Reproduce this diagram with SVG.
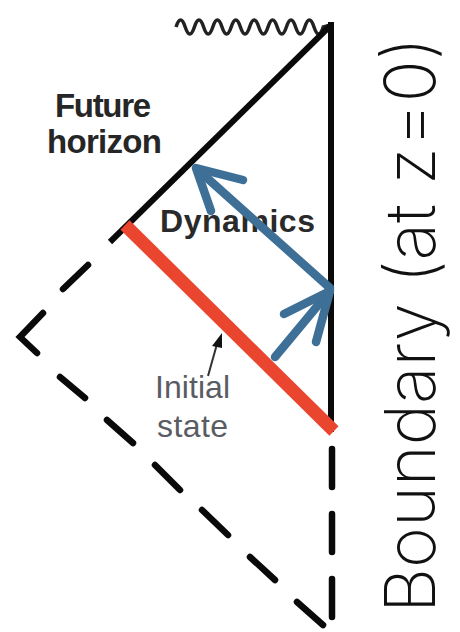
<svg xmlns="http://www.w3.org/2000/svg" width="460" height="632" viewBox="0 0 460 632">
<style>
.ln{stroke:#0a0a0a;stroke-width:6;fill:none;stroke-linecap:butt;stroke-linejoin:miter}
.dash{stroke:#0a0a0a;stroke-width:6.5;fill:none;stroke-linecap:round;stroke-linejoin:miter}
.blue{stroke:#3d6f97;stroke-width:8.5;fill:none;stroke-linecap:round;stroke-linejoin:round}
.lbl{font-family:"Liberation Sans",Arial,sans-serif}
</style>
<rect width="460" height="632" fill="#ffffff"/>
<g id="singularity">
<path d="M176,27 q4.6,-14 9.2,0 t9.2,0 t9.2,0 t9.2,0 t9.2,0 t9.2,0 t9.2,0 t9.2,0 t9.2,0 t9.2,0 t9.2,0 t9.2,0 t9.2,0 t9.2,0 t9.2,0 t9.2,0 L331,25" stroke="#222" stroke-width="3.5" fill="none"/>
</g>
<g id="connectors">
<line class="ln" x1="331" y1="22" x2="331" y2="432"/>
<line class="ln" x1="331" y1="25" x2="110" y2="242"/>
<line class="dash" x1="88" y1="265" x2="63" y2="289"/>
<polyline class="dash" points="43,313 20,337 37,353"/>
<line class="dash" x1="60" y1="377" x2="85" y2="398"/>
<line class="dash" x1="107" y1="420" x2="133" y2="443"/>
<line class="dash" x1="155" y1="465" x2="180" y2="490"/>
<line class="dash" x1="202" y1="510" x2="228" y2="535"/>
<line class="dash" x1="250" y1="557" x2="275" y2="580"/>
<line class="dash" x1="297" y1="602" x2="323" y2="625"/>
<line class="dash" x1="332" y1="449" x2="332" y2="487"/>
<line class="dash" x1="332" y1="514" x2="332" y2="552"/>
<line class="dash" x1="332" y1="579" x2="332" y2="617"/>
</g>
<g id="future-horizon-label">
<text class="lbl" x="55" y="117" font-size="33" font-weight="bold" fill="#262626" textLength="96">Future</text>
<text class="lbl" x="47" y="153" font-size="33" font-weight="bold" fill="#262626" textLength="115">horizon</text>
</g>
<g id="dynamics-label">
<text class="lbl" x="160" y="232" font-size="32" font-weight="bold" fill="#2a2a2a" textLength="155">Dynamics</text>
</g>
<g id="initial-state">
<line x1="125" y1="225" x2="334" y2="431" stroke="#e9452f" stroke-width="13"/>
</g>
<g id="dynamics-arrows">
<line class="blue" x1="330" y1="288" x2="197" y2="169"/>
<polyline class="blue" points="243,180 196,168 211,211"/>
<line class="blue" x1="275" y1="357" x2="329" y2="292"/>
<polyline class="blue" points="284,314 330,291 316,342"/>
</g>
<g id="initial-label">
<line x1="208" y1="376" x2="217" y2="344" stroke="#333" stroke-width="2"/>
<polygon points="222,333 212,346 222,348" fill="#111"/>
<text class="lbl" x="155" y="398" font-size="32" fill="#5a5c64" textLength="75">Initial</text>
<text class="lbl" x="157" y="437" font-size="32" fill="#5a5c64" textLength="71">state</text>
</g>
<g id="boundary-label">
<text transform="translate(435,613) rotate(-90)" x="0" y="0" font-family="Inter,'Open Sans',sans-serif" font-weight="200" font-size="70" fill="#111" textLength="576">Boundary (at z=0)</text>
</g>
</svg>
